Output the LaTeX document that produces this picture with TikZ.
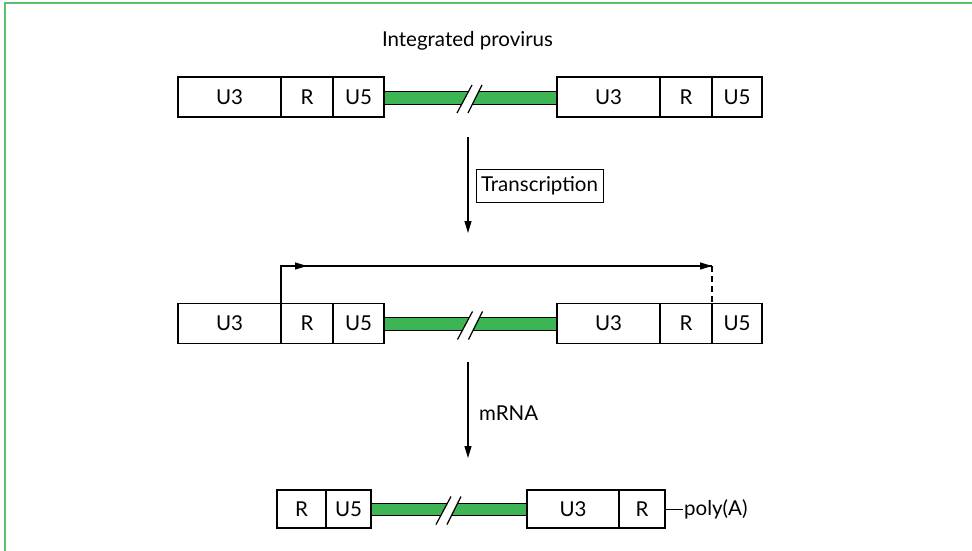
\documentclass[tikz,border=0pt]{standalone}
\usepackage{fontspec}
\setmainfont{Lato}
\usetikzlibrary{arrows.meta}
\definecolor{bargreen}{RGB}{61,181,84}
\definecolor{framegreen}{RGB}{92,192,110}
\tikzset{
  box/.style={draw=black, line width=1.1pt, inner sep=0pt, outer sep=0pt, minimum height=40pt, font=\fontsize{20.5}{24}\selectfont},
  bar/.style={draw=black, fill=bargreen, line width=1pt, inner sep=0pt, outer sep=0pt},
  lbl/.style={inner sep=0pt, font=\fontsize{20.5}{24}\selectfont},
  arr/.style={line width=1.2pt, -{Triangle[length=12pt,width=7pt]}},
  slash/.style={line width=1.2pt, black},
}
\newcommand{\slashpair}[2]{%
  \fill[white] (#1-13.5,#2+15.5) -- (#1+1.5,#2-12.5) -- (#1+11.5,#2-12.5) -- (#1-2.5,#2+15.5) -- cycle;
  \draw[slash] (#1-13.5,#2+15.5) -- (#1+1.5,#2-12.5);
  \draw[slash] (#1-2.5,#2+15.5) -- (#1+11.5,#2-12.5);
}
\begin{document}
\begin{tikzpicture}[x=1pt,y=-1pt]
\useasboundingbox (0,0) rectangle (972,551);
\fill[white] (0,0) rectangle (972,551);
% frame
\draw[framegreen, line width=2pt] (5,551) -- (5,3) -- (972,3);

% title
\node[lbl] (title) at (467.5,41) {Integrated provirus};

% row 1
\node[bar, minimum width=173pt, minimum height=13pt] (g1) at (470.5,97.5) {};
\slashpair{470.5}{97.5}
\node[box, minimum width=103pt] (a1) at (229.5,97) {U3};
\node[box, minimum width=52pt] (b1) at (307,97) {R};
\node[box, minimum width=51pt] (c1) at (358.5,97) {U5};
\node[box, minimum width=103pt] (d1) at (608.5,97) {U3};
\node[box, minimum width=52pt] (e1) at (686,97) {R};
\node[box, minimum width=50pt] (f1) at (737,97) {U5};

% arrow 1
\coordinate (s1) at (468,137);
\coordinate (t1) at (468,233);
\draw[arr] (s1) -- (t1);
\node[draw=black, line width=1pt, inner sep=0pt, minimum width=127pt, minimum height=33pt, font=\fontsize{20.5}{24}\selectfont] (tr) at (539.5,185.5) {Transcription};

% row 2
\node[bar, minimum width=173pt, minimum height=13pt] (g2) at (470.5,324) {};
\slashpair{471}{324}
\node[box, minimum width=103pt] (a2) at (229.5,323.5) {U3};
\node[box, minimum width=52pt] (b2) at (307,323.5) {R};
\node[box, minimum width=51pt] (c2) at (358.5,323.5) {U5};
\node[box, minimum width=103pt] (d2) at (608.5,323.5) {U3};
\node[box, minimum width=52pt] (e2) at (686,323.5) {R};
\node[box, minimum width=50pt] (f2) at (737,323.5) {U5};

% transcript
\coordinate (tc) at (b2.north west |- 0,266);
\coordinate (te) at (f2.north west |- 0,266);
\coordinate (tm0) at (292,266);
\coordinate (tm) at (307,266);
\coordinate (te0) at (695,266);
\draw[line width=1.1pt] (b2.north west) -- (tc) -- (te);
\draw[arr] (tm0) -- (tm);
\draw[arr] (te0) -- (te);
\draw[line width=1.1pt, dash pattern=on 6pt off 4pt] (te) -- (f2.north west);

% arrow 2
\coordinate (s2) at (468,362);
\coordinate (t2) at (468,458);
\draw[arr] (s2) -- (t2);
\node[lbl, anchor=west] (mrna) at (479,413) {mRNA};

% row 3
\node[bar, minimum width=156pt, minimum height=12pt] (g3) at (449,509) {};
\slashpair{449.5}{509}
\node[box, minimum width=49pt, minimum height=38pt] (b3) at (301.5,509) {R};
\node[box, minimum width=45pt, minimum height=38pt] (c3) at (348.5,509) {U5};
\node[box, minimum width=92pt, minimum height=38pt] (d3) at (573,509) {U3};
\node[box, minimum width=46pt, minimum height=38pt] (e3) at (642,509) {R};
\coordinate (pa) at (683,509);
\draw[line width=1pt] (e3.east) -- (pa);
\node[lbl, anchor=west] (poly) at (684,509) {poly(A)};
\end{tikzpicture}
\end{document}
